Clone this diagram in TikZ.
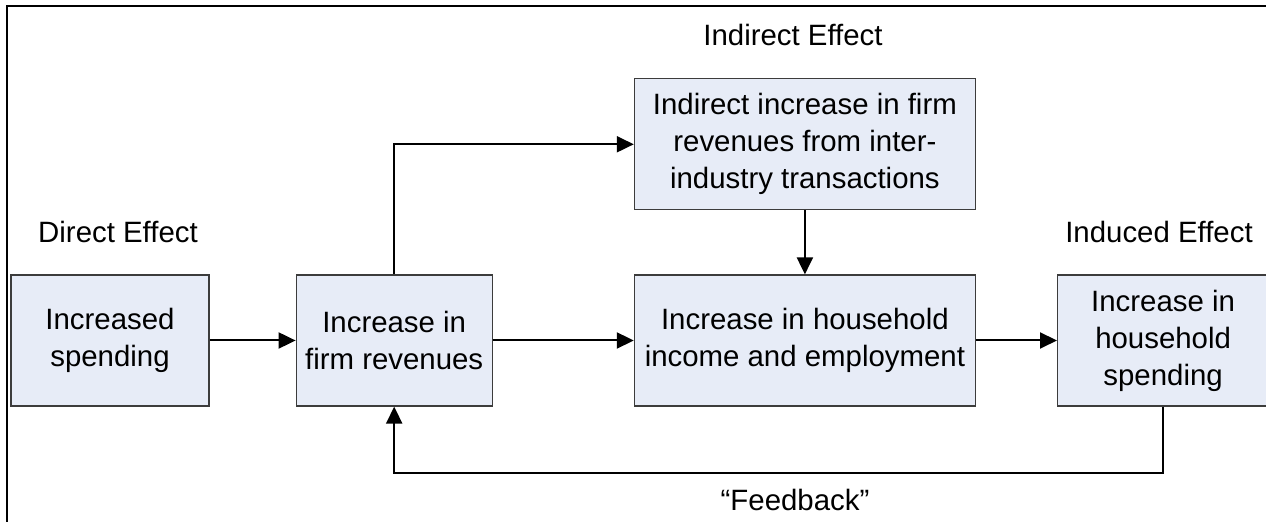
\documentclass[tikz,border=0pt]{standalone}
\usepackage{fontspec}
\setmainfont{Liberation Sans}
\usetikzlibrary{arrows.meta,positioning}
\definecolor{boxfill}{RGB}{231,236,247}
\definecolor{boxline}{RGB}{60,60,60}

\begin{document}
\begin{tikzpicture}[
  x=0.5pt, y=-0.5pt,
  font=\fontsize{14.7}{18.5}\selectfont,
  >={Triangle[length=8.5pt, width=8pt]},
  effbox/.style={rectangle, draw=boxline, line width=0.6pt, fill=boxfill,
                 align=center, inner sep=0pt, minimum height=65.5pt},
  lbl/.style={inner sep=0pt},
  ar/.style={->, line width=1pt, draw=black},
]
\useasboundingbox (0,0) rectangle (1266,522);

% ---------- frame (top and left edges) ----------
\draw[line width=1pt] (7,530) -- (7,6) -- (1270,6);

% ---------- main row ----------
\node[effbox, minimum width=99pt] (spend) at (110,340.5) {Increased\\spending};
\node[effbox, minimum width=98pt, right=43pt of spend] (firm) {Increase in\\firm revenues};
\node[effbox, minimum width=170.5pt, right=70.5pt of firm] (house) {Increase in household\\income and employment};
\node[effbox, minimum width=105.5pt, right=40.5pt of house] (hspend) {Increase in\\household\\spending};

% ---------- indirect box above ----------
\node[effbox, minimum width=170.5pt, above=32pt of house] (inter)
  {Indirect increase in firm\\revenues from inter-\\industry transactions};

% ---------- effect labels ----------
\node[lbl] (direct) at (118,232) {Direct Effect};
\node[lbl] (indirect) at (793,35) {Indirect Effect};
\node[lbl] (induced) at (1159,232) {Induced Effect};
\node[lbl] (feedback) at (795,500) {“Feedback”};

% ===== forward edges =====
\draw[ar] (spend) -- (firm);
\draw[ar] (firm) -- (house);
\draw[ar] (house) -- (hspend);
\draw[ar] (firm.north) |- (inter.west);
\draw[ar] (inter) -- (house);

% ===== feedback loop =====
\draw[ar] (hspend.south) -- ++(0,66) -| (firm.south);

\end{tikzpicture}
\end{document}
